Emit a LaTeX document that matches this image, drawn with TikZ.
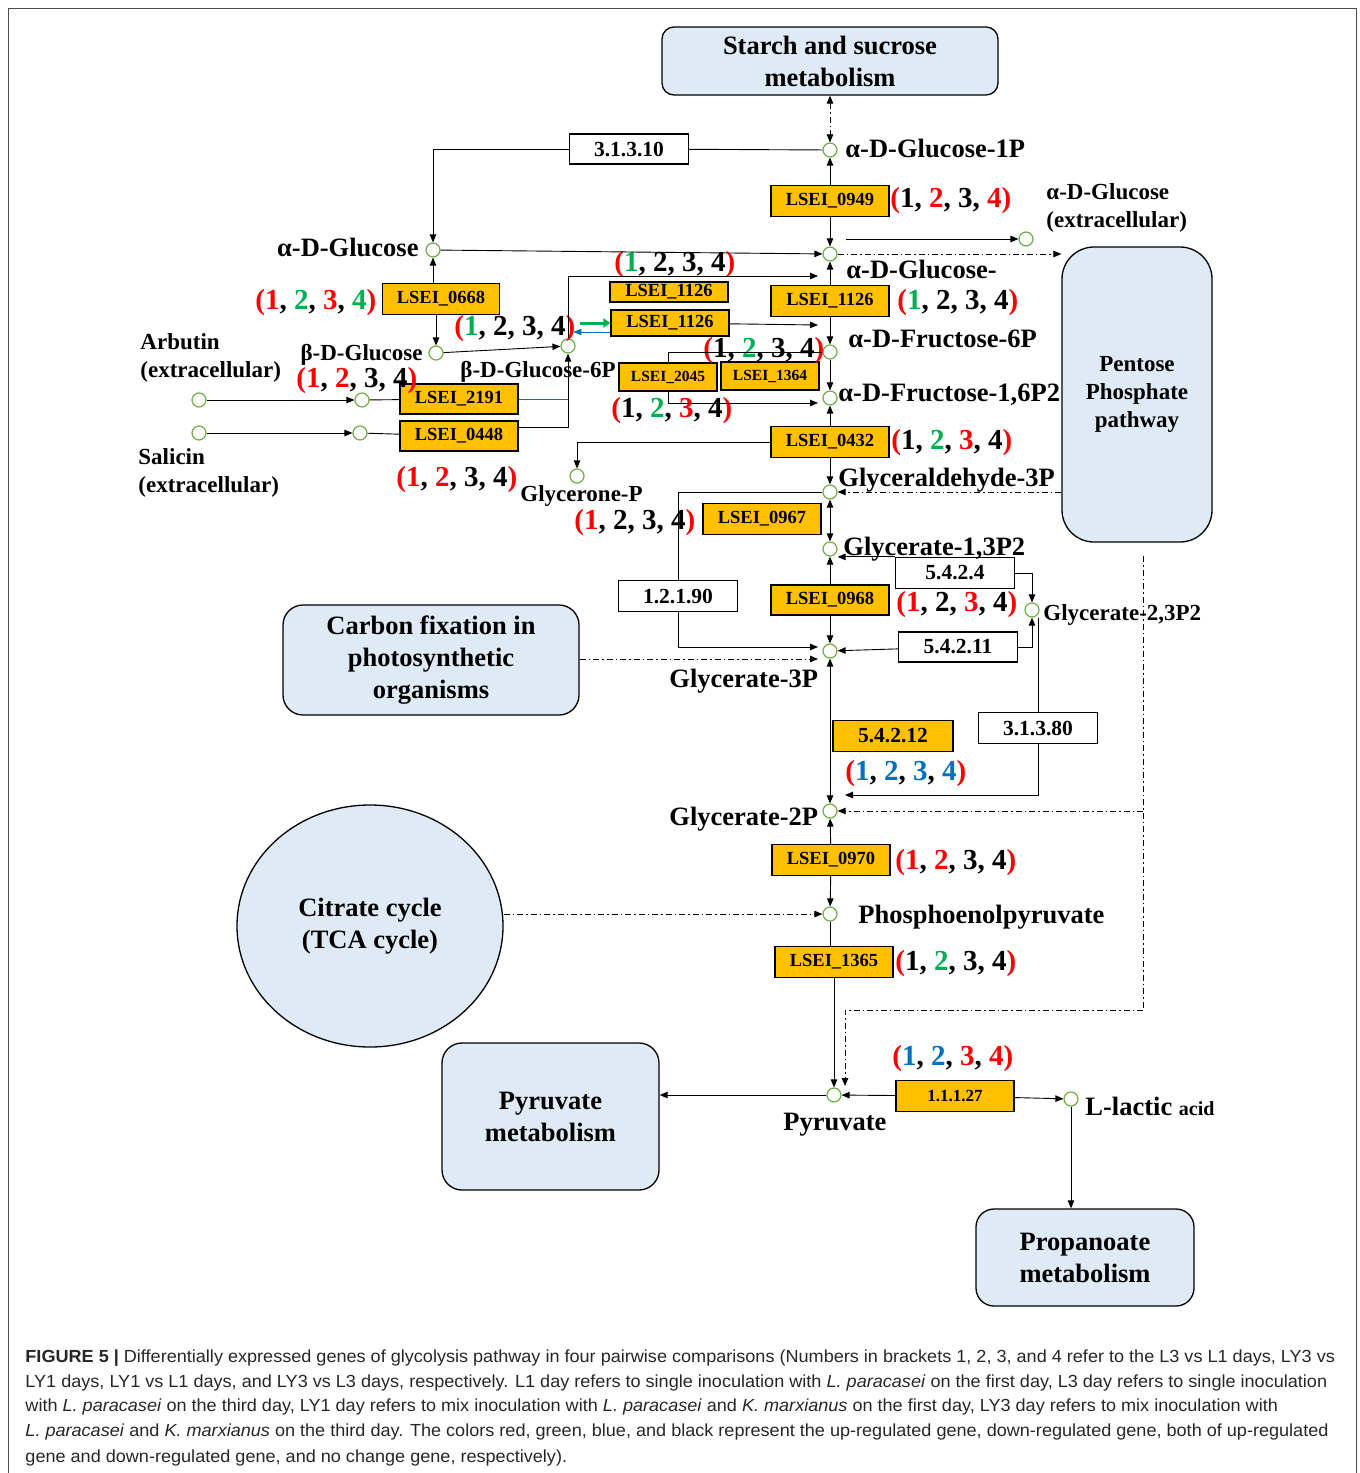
\documentclass[tikz,border=0pt]{standalone}
\usepackage{fontspec}
\setmainfont{Liberation Serif}
\newfontfamily\capfont[FakeStretch=1.033]{Liberation Sans}
\usetikzlibrary{arrows.meta,shapes.geometric}

\definecolor{upred}{HTML}{FF0000}
\definecolor{dngreen}{HTML}{00B050}
\definecolor{bothblue}{HTML}{0070C0}
\definecolor{genefill}{HTML}{FFC000}
\definecolor{poolfill}{HTML}{DEEBF7}
\definecolor{metgreen}{HTML}{70AD47}

\newcommand{\regs}[4]{\textcolor{upred}{(}\textcolor{#1}{1}, \textcolor{#2}{2}, \textcolor{#3}{3}, \textcolor{#4}{4}\textcolor{upred}{)}}

\begin{document}
\begin{tikzpicture}[x=1pt, y=-1pt, >={Triangle[length=8pt,width=6.5pt]},
  every path/.style = {line width=0.9pt},
  met/.style = {circle, draw=metgreen, fill=white, line width=1.2pt, minimum size=14pt, inner sep=0pt},
  gene/.style = {rectangle, draw=black, fill=genefill, line width=1.2pt, minimum width=118pt, minimum height=31pt, inner sep=0pt, font=\fontsize{18.5}{20}\selectfont\bfseries},
  ecbox/.style = {rectangle, draw=black, fill=white, line width=1.2pt, minimum width=119pt, minimum height=31pt, inner sep=0pt, font=\fontsize{21.5}{24}\selectfont\bfseries},
  pool/.style = {rectangle, draw=black, fill=poolfill, line width=1.3pt, align=center, inner sep=0pt, font=\fontsize{26.5}{32}\selectfont\bfseries},
  lab/.style = {inner sep=0pt, anchor=base west, font=\fontsize{26.5}{31}\selectfont\bfseries},
  slab/.style = {inner sep=0pt, anchor=base west, font=\fontsize{23}{28}\selectfont\bfseries},
  num/.style = {inner sep=0pt, anchor=base west, font=\fontsize{29}{32}\selectfont\bfseries},
  captext/.style = {inner sep=0pt, anchor=base west, text=black!85, font=\capfont\fontsize{17.5}{20}\selectfont},
  link/.style = {dash pattern=on 6pt off 3pt on 1.5pt off 3pt}]

\useasboundingbox (0,0) rectangle (1360,1473);
\draw[black!70] (8,1500) -- (8,8) -- (1356,8) -- (1356,1500);

\node[pool, rounded corners=12pt, minimum width=336pt, minimum height=68pt] (starch) at (830,61) {Starch and sucrose\\metabolism};
\node[pool, rounded corners=32pt, minimum width=150pt, minimum height=295pt, font=\fontsize{23}{28}\selectfont\bfseries] (ppp) at (1137,394.5) {Pentose\\Phosphate\\pathway};
\node[pool, rounded corners=20pt, minimum width=296pt, minimum height=110pt] (cfix) at (431,660) {Carbon fixation in\\photosynthetic\\organisms};
\node[pool, ellipse, minimum width=266pt, minimum height=242pt] (tca) at (370,926) {Citrate cycle\\(TCA cycle)};
\node[pool, rounded corners=20pt, minimum width=217pt, minimum height=147pt] (pyrmet) at (550.5,1116.5) {Pyruvate\\metabolism};
\node[pool, rounded corners=18pt, minimum width=218pt, minimum height=97pt] (prop) at (1085,1257.5) {Propanoate\\metabolism};

\node[met] (g1p) at (830,150) {};
\node[met] (aglc) at (433,250) {};
\node[met] (g6p) at (830,254) {};
\node[met] (aglcx) at (1026,239) {};
\node[met] (bglc) at (436,353) {};
\node[met] (bg6p) at (568,346) {};
\node[met] (f6p) at (830,352) {};
\node[met] (f16p) at (830,398) {};
\node[met] (arbx) at (199,400) {};
\node[met] (arb) at (362,400) {};
\node[met] (salx) at (199,433) {};
\node[met] (sal) at (360,433) {};
\node[met] (dhap) at (577,476) {};
\node[met] (gap) at (830,492) {};
\node[met] (bpg) at (830,549) {};
\node[met] (dpg) at (1032,610) {};
\node[met] (pg3) at (830,651) {};
\node[met] (pg2) at (830,811) {};
\node[met] (pep) at (830,914) {};
\node[met] (pyr) at (834,1095) {};
\node[met] (lac) at (1071,1099) {};

\node[gene] (b0949) at (830,201) {LSEI\_0949};
\node[gene, minimum width=117pt] (b0668) at (441,299) {LSEI\_0668};
\node[gene, minimum height=20pt] (b1126a) at (669,292) {LSEI\_1126};
\node[gene, minimum height=26pt] (b1126b) at (670,323) {LSEI\_1126};
\node[gene] (b1126c) at (830,301) {LSEI\_1126};
\node[gene, minimum width=98pt, minimum height=28pt, font=\fontsize{15.5}{17}\selectfont\bfseries] (b2045) at (668,377) {LSEI\_2045};
\node[gene, minimum width=98pt, minimum height=28pt, font=\fontsize{15.5}{17}\selectfont\bfseries] (b1364) at (770,376) {LSEI\_1364};
\node[gene, minimum height=30pt] (b2191) at (459,399) {LSEI\_2191};
\node[gene, minimum height=30pt] (b0448) at (459,436) {LSEI\_0448};
\node[gene] (b0432) at (830,442) {LSEI\_0432};
\node[gene] (b0967) at (762,519) {LSEI\_0967};
\node[gene, minimum height=30pt] (b0968) at (830,600) {LSEI\_0968};
\node[gene, minimum width=120pt, font=\fontsize{21.5}{24}\selectfont\bfseries] (e54212) at (893,736) {5.4.2.12};
\node[gene] (b0970) at (831,860) {LSEI\_0970};
\node[gene] (b1365) at (834,962) {LSEI\_1365};
\node[gene, font=\fontsize{17}{20}\selectfont\bfseries] (e11127) at (955,1096) {1.1.1.27};

\node[ecbox, minimum height=30pt] (e31310) at (629,149) {3.1.3.10};
\node[ecbox] (e12190) at (678,596) {1.2.1.90};
\node[ecbox] (e5424) at (955,573) {5.4.2.4};
\node[ecbox, minimum height=30pt] (e54211) at (958,647) {5.4.2.11};
\node[ecbox] (e31380) at (1038,728) {3.1.3.80};

\node[lab] (tg1p) at (845,157) {α-D-Glucose-1P};
\node[slab, align=left, anchor=west] (taglcx) at (1046,208) {α-D-Glucose\\(extracellular)};
\node[lab, anchor=base east] (taglc) at (419,256) {α-D-Glucose};
\node[lab] (tg6p) at (846,278) {α-D-Glucose-};
\node[lab] (tf6p) at (848,347) {α-D-Fructose-6P};
\node[lab] (tf16p) at (838,401) {α-D-Fructose-1,6P2};
\node[slab, align=left, anchor=west] (tarb) at (140,358) {Arbutin\\(extracellular)};
\node[slab, align=left, anchor=west] (tsal) at (138,473) {Salicin\\(extracellular)};
\node[slab, anchor=base east] (tbglc) at (423,360) {β-D-Glucose};
\node[slab] (tbg6p) at (460,377) {β-D-Glucose-6P};
\node[slab] (tdhap) at (520,501) {Glycerone-P};
\node[lab] (tgap) at (838,486) {Glyceraldehyde-3P};
\node[lab] (tbpg) at (843,555) {Glycerate-1,3P2};
\node[slab] (tdpg) at (1043,620) {Glycerate-2,3P2};
\node[lab] (tpg3) at (669,687) {Glycerate-3P};
\node[lab] (tpg2) at (669,825) {Glycerate-2P};
\node[lab] (tpep) at (858,923) {Phosphoenolpyruvate};
\node[lab] (tpyr) at (783,1130) {Pyruvate};
\node[lab] (tlac) at (1085,1115) {L-lactic {\fontsize{20}{24}\selectfont acid}};

\node[num] (n0949) at (890,207) {\regs{black}{upred}{black}{upred}};
\node[num] (nglc) at (614,271) {\regs{dngreen}{black}{black}{black}};
\node[num] (n0668) at (255,309) {\regs{upred}{dngreen}{upred}{dngreen}};
\node[num] (n1126c) at (897,309) {\regs{dngreen}{black}{black}{black}};
\node[num] (n1126b) at (454,335) {\regs{dngreen}{black}{black}{black}};
\node[num] (n2191) at (296,387) {\regs{upred}{upred}{black}{black}};
\node[num] (n1364) at (703,357) {\regs{black}{dngreen}{black}{black}};
\node[num] (n2045) at (611,417) {\regs{black}{dngreen}{upred}{black}};
\node[num] (n0432) at (891,449) {\regs{black}{dngreen}{upred}{black}};
\node[num] (n0448) at (396,486) {\regs{upred}{upred}{black}{black}};
\node[num] (n0967) at (574,529) {\regs{upred}{black}{black}{black}};
\node[num] (n0968) at (896,611) {\regs{upred}{black}{upred}{black}};
\node[num] (n54212) at (845,780) {\regs{bothblue}{bothblue}{bothblue}{bothblue}};
\node[num] (n0970) at (895,869) {\regs{upred}{upred}{black}{black}};
\node[num] (n1365) at (895,970) {\regs{black}{dngreen}{black}{black}};
\node[num] (n11127) at (892,1065) {\regs{bothblue}{bothblue}{upred}{upred}};

\coordinate (xs) at (846,239);
\coordinate (k1) at (818,276);
\coordinate (k2) at (818,325);
\coordinate (k4) at (818,403);
\coordinate (k5) at (818,647);
\coordinate (k6) at (818,659);
\coordinate (k7) at (845,795);
\coordinate (d1) at (1143,556);
\coordinate (d2) at (1143,1010);
\coordinate (k8) at (845,1086);
\coordinate (gtail) at (580,323);

\draw[link, <->] (starch.south) -- (g1p);
\draw (g1p) -- (e31310);
\draw[->] (e31310.west) -| (aglc);
\draw[->] (b0949) -- (g1p);
\draw[->] (b0949) -- (g6p);
\draw[->] (xs) -- (aglcx);
\draw[link, ->] (g6p) -- (g6p -| ppp.west);
\draw[->] (aglc) -- (g6p);
\draw[->] (b0668.north -| aglc) -- (aglc);
\draw[->] (b0668.south -| bglc) -- (bglc);
\draw[->] (bglc) -- (bg6p);
\draw[->] (bg6p) |- (k1);
\draw[->] (b1126c) -- (g6p);
\draw[->] (b1126c) -- (f6p);
\draw[->] (b1126b) -- (k2);
\draw[dngreen, line width=3pt, -{Triangle[length=7pt,width=9pt]}] (gtail) -- (b1126b.west);
\draw[bothblue, ->] ([yshift=-9pt]b1126b.west) -- ([yshift=-9pt]b1126b.west -| bg6p.north east);
\draw[->] (f6p) -- (f16p);
\draw (f6p) -- (f6p -| b2045) -- (b2045);
\draw[->] (b2045) |- (k4);
\draw[->] (arbx) -- (arb);
\draw (arb) -- (b2191);
\draw[bothblue] (b2191.east) -- (b2191.east -| bg6p);
\draw[->] (salx) -- (sal);
\draw (sal) -- (b0448);
\draw[->] ([yshift=9pt]b0448.east) -| (bg6p);
\draw[->] (b0432) -- (f16p);
\draw[->] (b0432) -- (gap);
\draw[->] (b0432) -| (dhap);
\draw[<->] (gap) -- (bpg);
\draw[link, ->] (gap -| ppp.west) -- (gap);
\draw (gap) -| (e12190);
\draw[->] (e12190) |- (k5);
\draw[link, ->] (cfix.east |- k6) -- (k6);
\draw[->] (b0968) -- (bpg);
\draw[->] (b0968) -- (pg3);
\draw[->] (e5424.north west) -- (e5424.north west -| bpg.east);
\draw[->] (e5424.east) -| (dpg);
\draw[->] (e54211) -- (pg3);
\draw[->] (e54211.east) -| (dpg);
\draw (dpg.south -| e31380) -- (e31380);
\draw[->] (e31380) |- (k7);
\draw[<->] (pg3) -- (pg2);
\draw[link] (d1) -- (d2);
\draw[link, ->] (d1 |- pg2) -- (pg2);
\draw[link, ->] (d2) -| (k8);
\draw[->] (b0970) -- (pg2);
\draw[->] (b0970) -- (pep);
\draw[link, ->] (tca.east |- pep) -- (pep);
\draw (pep) -- (pep |- b1365.north);
\draw[->] (b1365) -- (pyr);
\draw[->] (pyr) -- (pyr -| pyrmet.east);
\draw[->] (e11127) -- (pyr);
\draw[->] (e11127) -- (lac);
\draw[->] (lac) -- (lac |- prop.north);

\node[captext] (c1) at (25,1362) {\textbf{FIGURE 5 |} Differentially expressed genes of glycolysis pathway in four pairwise comparisons (Numbers in brackets 1, 2, 3, and 4 refer to the L3 vs L1 days, LY3 vs};
\node[captext] (c2) at (25,1387) {LY1 days, LY1 vs L1 days, and LY3 vs L3 days, respectively. L1 day refers to single inoculation with \textit{L. paracasei} on the first day, L3 day refers to single inoculation};
\node[captext] (c3) at (25,1411) {with \textit{L. paracasei} on the third day, LY1 day refers to mix inoculation with \textit{L. paracasei} and \textit{K. marxianus} on the first day, LY3 day refers to mix inoculation with};
\node[captext] (c4) at (25,1436) {\textit{L. paracasei} and \textit{K. marxianus} on the third day. The colors red, green, blue, and black represent the up-regulated gene, down-regulated gene, both of up-regulated};
\node[captext] (c5) at (25,1462) {gene and down-regulated gene, and no change gene, respectively).};

\end{tikzpicture}
\end{document}
